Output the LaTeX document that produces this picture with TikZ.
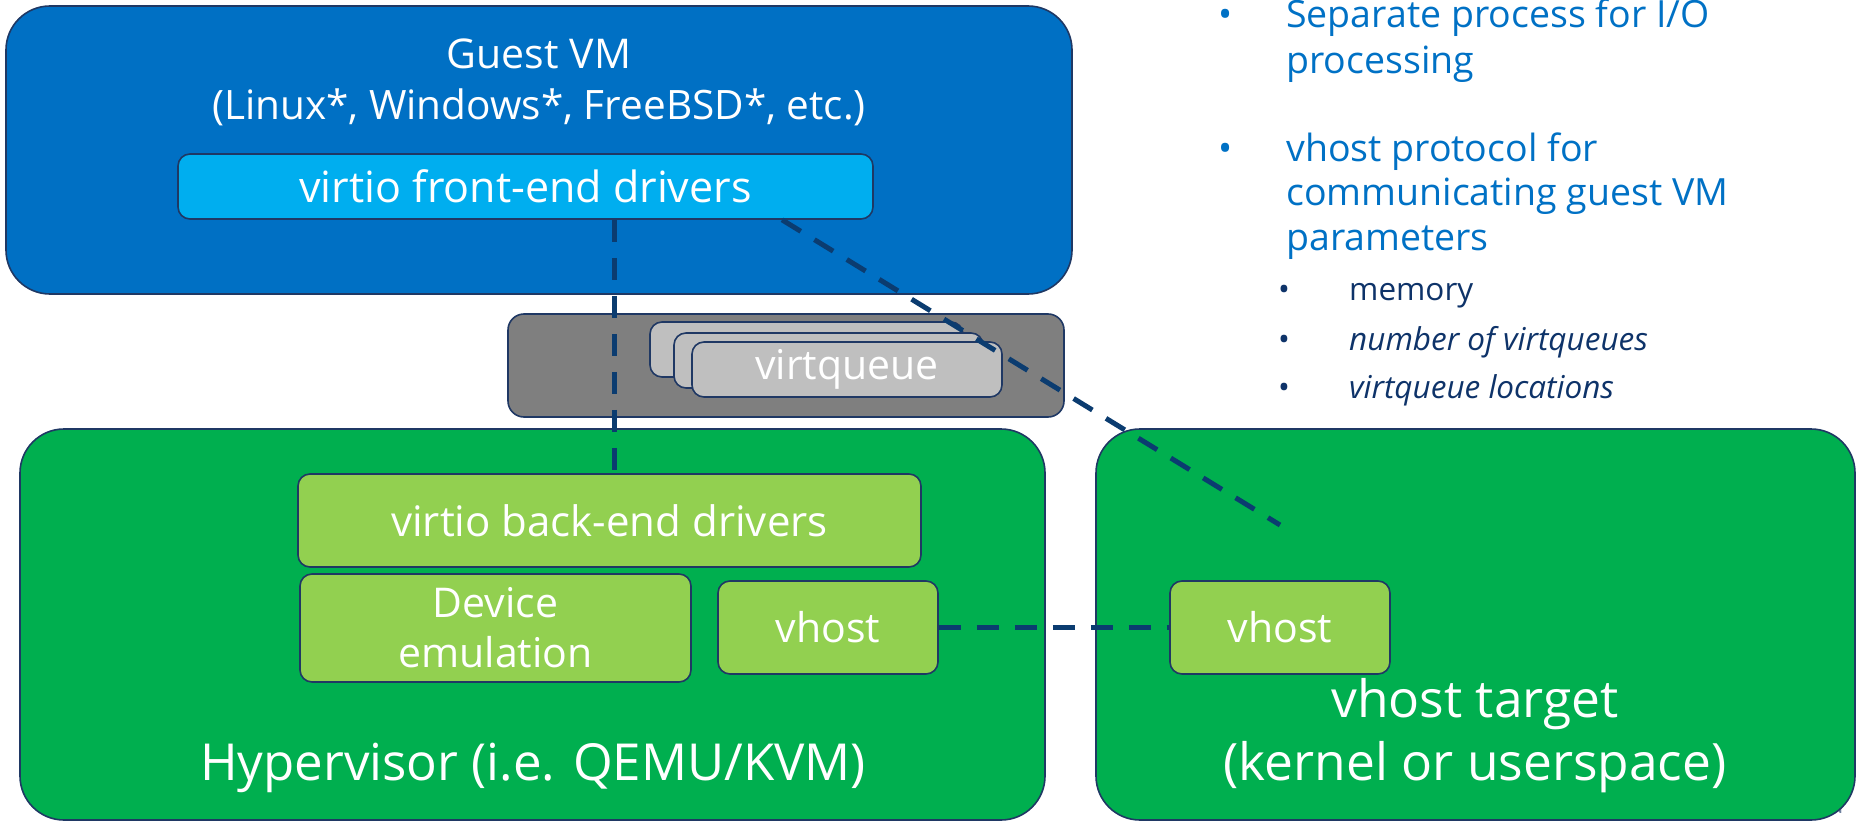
\documentclass[tikz,border=0pt]{standalone}
\usepackage{fontspec}
\setmainfont{Open Sans}
\definecolor{edge}{HTML}{1F3864}
\definecolor{guestblue}{HTML}{0070C4}
\definecolor{frontblue}{HTML}{00AEEF}
\definecolor{hostgreen}{HTML}{00AF4F}
\definecolor{tilegreen}{HTML}{92D050}
\definecolor{queuegray}{HTML}{7F7F7F}
\definecolor{ringgray}{HTML}{BFBFBF}
\definecolor{linkc}{HTML}{0B3C70}
\definecolor{bulletblue}{HTML}{0071C5}
\definecolor{subnavy}{HTML}{0E3369}
\definecolor{markgray}{HTML}{6D7F9E}
\begin{document}
\begin{tikzpicture}[x=1pt,y=-1pt,
  panel/.style={draw=edge, line width=1.6pt, rounded corners=44pt, inner sep=0pt},
  tile/.style={draw=edge, line width=1.6pt, rounded corners=12pt, inner sep=0pt,
    text=white, align=center, font=\fontsize{41}{50}\selectfont},
  caption/.style={text=white, inner sep=0pt, anchor=base},
  link/.style={draw=linkc, line width=5pt, dash pattern=on 22pt off 16pt},
  mainitem/.style={text=bulletblue, inner sep=0pt, anchor=base west, font=\fontsize{37.5}{45}\selectfont},
  subitem/.style={text=subnavy, inner sep=0pt, anchor=base west, font=\fontsize{31.5}{35}\selectfont},
]
\useasboundingbox (0,0) rectangle (1858,824);

% stray footer letter, partly hidden behind the right panel
\node[text=markgray, inner sep=0pt, font=\fontsize{16}{16}\selectfont] (corner) at (1837,808) {N};

% guest VM
\node[panel, fill=guestblue, minimum width=1066pt, minimum height=288pt] (guest) at (539,150) {};
\node[caption, font=\fontsize{41}{41}\selectfont] (gtitle) at (539,69) {Guest VM};
\node[caption, font=\fontsize{40.5}{41}\selectfont] (gos) at (539,120) {(Linux*, Windows*, FreeBSD*, etc.)};
\node[tile, fill=frontblue, minimum width=695pt, minimum height=65pt, font=\fontsize{43}{43}\selectfont] (front) at (525.5,186.5) {virtio front-end drivers};

% shared virtqueues
\node[draw=edge, line width=1.6pt, rounded corners=16pt, fill=queuegray, minimum width=556pt, minimum height=103pt] (queue) at (786,365.5) {};
\node[tile, fill=ringgray, minimum width=313pt, minimum height=55pt] (ring3) at (806.5,349.5) {};
\node[tile, fill=ringgray, minimum width=309pt, minimum height=55pt] (ring2) at (828.5,360.5) {};
\node[tile, fill=ringgray, minimum width=310pt, minimum height=55pt] (ring1) at (847,369.5) {virtqueue};

% hypervisor
\node[panel, fill=hostgreen, minimum width=1025pt, minimum height=391pt] (hyper) at (532.5,624.5) {};
\node[tile, fill=tilegreen, minimum width=623pt, minimum height=93pt, font=\fontsize{42}{42}\selectfont] (back) at (609.5,520.5) {virtio back-end drivers};
\node[tile, fill=tilegreen, minimum width=391pt, minimum height=108pt] (emu) at (495.5,628) {Device\\emulation};
\node[tile, fill=tilegreen, minimum width=220pt, minimum height=93pt] (vhostl) at (828,627.5) {vhost};
\node[caption, font=\fontsize{51}{51}\selectfont] (htitle) at (533,780) {Hypervisor (i.e. QEMU/KVM)};

% vhost target
\node[panel, fill=hostgreen, minimum width=759pt, minimum height=391pt] (target) at (1475.5,624.5) {};
\node[tile, fill=tilegreen, minimum width=220pt, minimum height=93pt] (vhostr) at (1280,627.5) {vhost};
\node[caption, font=\fontsize{51.5}{51.5}\selectfont] (ttitle) at (1475,717) {vhost target};
\node[caption, font=\fontsize{51.5}{51.5}\selectfont] (tsub) at (1475,780) {(kernel or userspace)};

% connectors
\coordinate (protoend) at (1280,525);
\draw[link] (front.south -| 614,0) -- (back.north -| 614,0);
\draw[link] (front.south -| 782,0) -- (protoend);
\draw[link] (vhostl.east) -- (vhostr.west);

% notes
\node[mainitem] (b1) at (1218,28) {•};
\node[mainitem] (t1) at (1286,28) {Separate process for I/O};
\node[mainitem] (t1b) at (1286,74) {processing};
\node[mainitem] (b2) at (1218,161) {•};
\node[mainitem] (t2) at (1286,161) {vhost protocol for};
\node[mainitem] (t2b) at (1286,205) {communicating guest VM};
\node[mainitem] (t2c) at (1286,250) {parameters};
\node[subitem] (s1b) at (1278,300) {•};
\node[subitem] (s1) at (1349,300) {memory};
\node[subitem] (s2b) at (1278,350) {•};
\node[subitem] (s2) at (1349,350) {\itshape number of virtqueues};
\node[subitem] (s3b) at (1278,398) {•};
\node[subitem] (s3) at (1349,398) {\itshape virtqueue locations};
\end{tikzpicture}
\end{document}
